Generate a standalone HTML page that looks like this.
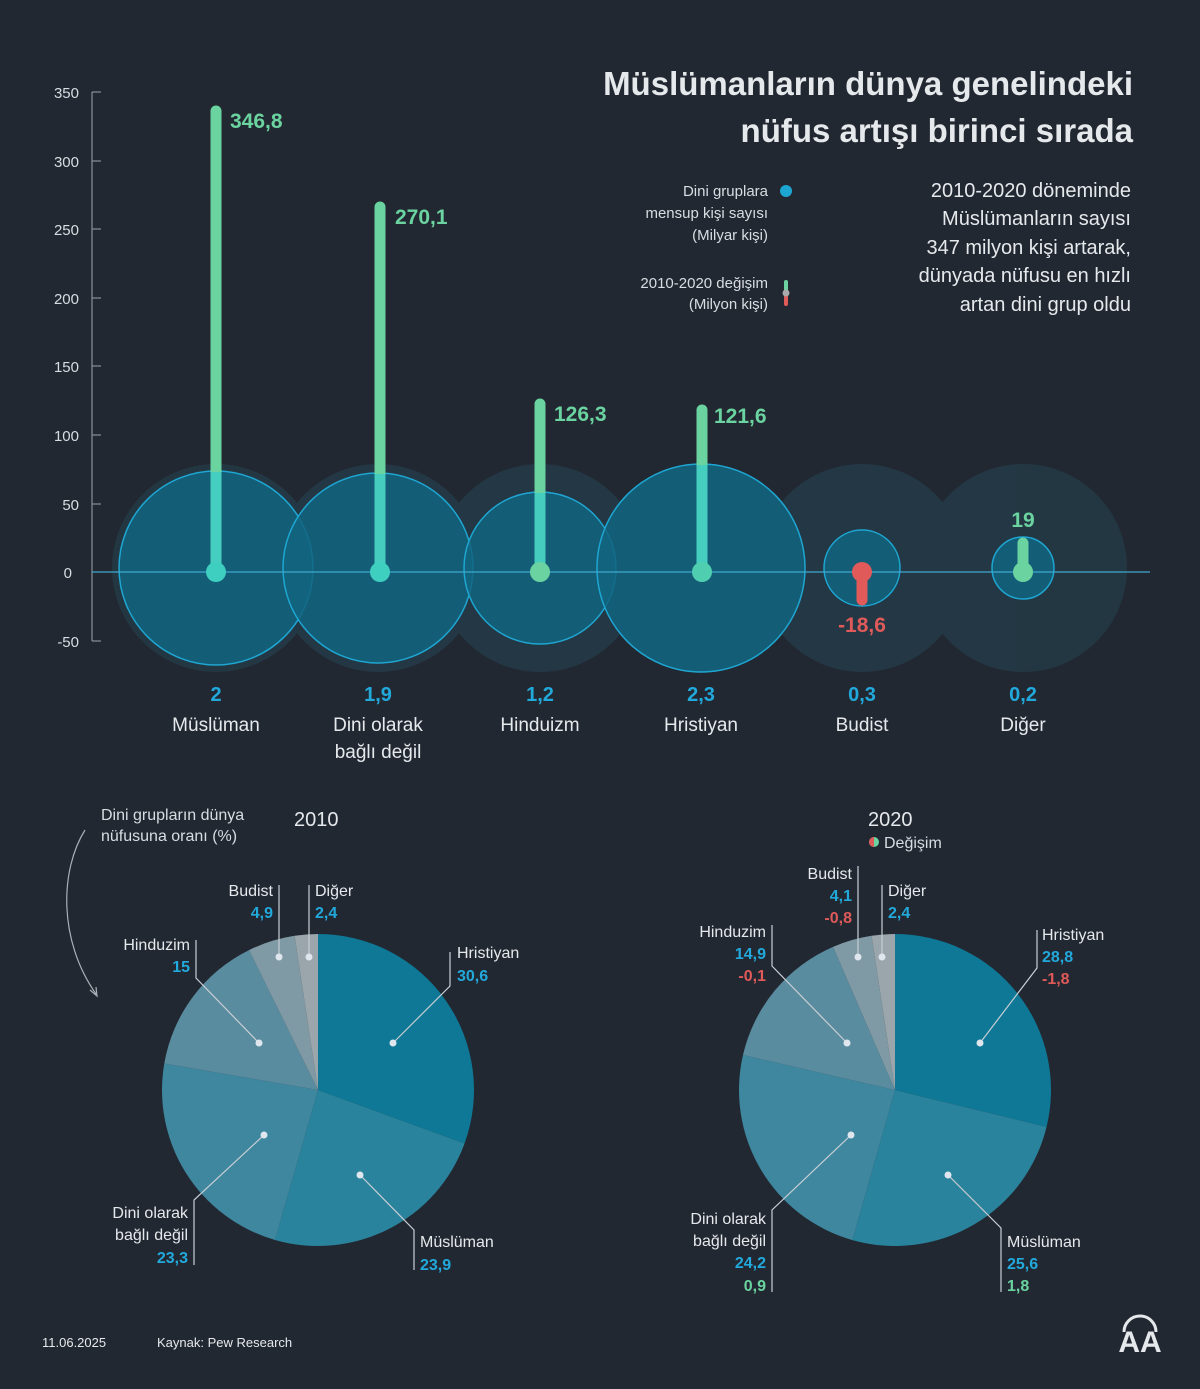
<!DOCTYPE html>
<html><head><meta charset="utf-8"><style>
html,body{margin:0;padding:0;background:#222832;}
svg{display:block;font-family:"Liberation Sans",sans-serif;}
</style></head><body>
<svg id="s" width="1200" height="1389" viewBox="0 0 1200 1389" xmlns="http://www.w3.org/2000/svg">
<rect width="1200" height="1389" fill="#222832"/>
<g fill="#243845" opacity="0.95">
<circle cx="216" cy="568" r="104"/><circle cx="378" cy="568" r="104"/><circle cx="540" cy="568" r="104"/>
<circle cx="701" cy="568" r="104"/><circle cx="862" cy="568" r="104"/><circle cx="1023" cy="568" r="104"/>
</g>
<g fill="#12647f" fill-opacity="0.85" stroke="#1ea6d2" stroke-width="1.5">
<circle cx="216" cy="568" r="97"/><circle cx="378" cy="568" r="95"/><circle cx="540" cy="568" r="76"/>
<circle cx="701" cy="568" r="104"/><circle cx="862" cy="568" r="38"/><circle cx="1023" cy="568" r="31"/>
</g>
<g stroke="#8a9098" stroke-width="1.2" fill="none">
<line x1="92" y1="92" x2="92" y2="641"/>
<line x1="92" y1="92" x2="101" y2="92"/><line x1="92" y1="161" x2="101" y2="161"/>
<line x1="92" y1="229" x2="101" y2="229"/><line x1="92" y1="298" x2="101" y2="298"/>
<line x1="92" y1="366" x2="101" y2="366"/><line x1="92" y1="435" x2="101" y2="435"/>
<line x1="92" y1="504" x2="101" y2="504"/><line x1="92" y1="641" x2="101" y2="641"/>
</g>
<line x1="92" y1="572" x2="1150" y2="572" stroke="#3fa9cf" stroke-width="1.3"/>
<g fill="#d8dde2" font-size="15" text-anchor="end">
<text x="79" y="98">350</text><text x="79" y="167">300</text><text x="79" y="235">250</text>
<text x="79" y="304">200</text><text x="79" y="372">150</text><text x="79" y="441">100</text>
<text x="79" y="510">50</text><text x="72" y="578">0</text><text x="79" y="647">-50</text>
</g>
<g stroke-linecap="round" stroke-width="11">
<line x1="216" y1="572" x2="216" y2="111" stroke="#6ad3a0"/>
<line x1="380" y1="572" x2="380" y2="207" stroke="#6ad3a0"/>
<line x1="540" y1="572" x2="540" y2="404" stroke="#6ad3a0"/>
<line x1="702" y1="572" x2="702" y2="410" stroke="#6ad3a0"/>
<line x1="862" y1="572" x2="862" y2="600" stroke="#e05a5a"/>
<line x1="1023" y1="572" x2="1023" y2="543" stroke="#6ad3a0"/>
</g>
<g stroke-width="11" stroke="#45cdbf">
<line x1="216" y1="572" x2="216" y2="472"/><line x1="380" y1="572" x2="380" y2="474"/>
<line x1="540" y1="572" x2="540" y2="493"/><line x1="702" y1="572" x2="702" y2="465"/>
</g>
<g fill="#3fcfc0">
<circle cx="216" cy="572" r="10"/><circle cx="380" cy="572" r="10"/>
</g>
<circle cx="540" cy="572" r="10" fill="#6ad3a0"/><circle cx="702" cy="572" r="10" fill="#4fcfb0"/>
<circle cx="862" cy="572" r="10" fill="#e05a5a"/><circle cx="1023" cy="572" r="10" fill="#6ad3a0"/>
<g fill="#6ad3a0" font-size="21" font-weight="bold">
<text x="230" y="128">346,8</text><text x="395" y="224">270,1</text>
<text x="554" y="421">126,3</text><text x="714" y="423">121,6</text>
<text x="1023" y="527" text-anchor="middle">19</text>
</g>
<text x="862" y="632" fill="#e05a5a" font-size="21" font-weight="bold" text-anchor="middle">-18,6</text>
<g font-size="20" font-weight="bold" fill="#22a9dc" text-anchor="middle">
<text x="216" y="701">2</text><text x="378" y="701">1,9</text><text x="540" y="701">1,2</text>
<text x="701" y="701">2,3</text><text x="862" y="701">0,3</text><text x="1023" y="701">0,2</text>
</g>
<g font-size="19" fill="#e6e9ec" text-anchor="middle">
<text x="216" y="731">Müslüman</text><text x="378" y="731">Dini olarak</text><text x="378" y="758">bağlı değil</text>
<text x="540" y="731">Hinduizm</text><text x="701" y="731">Hristiyan</text><text x="862" y="731">Budist</text><text x="1023" y="731">Diğer</text>
</g>
<g fill="#e6e9ec" font-size="33" font-weight="bold" text-anchor="end">
<text x="1133" y="95">Müslümanların dünya genelindeki</text>
<text x="1133" y="142">nüfus artışı birinci sırada</text>
</g>
<g fill="#e6e9ec" font-size="20" text-anchor="end">
<text x="1131" y="197">2010-2020 döneminde</text><text x="1131" y="225">Müslümanların sayısı</text>
<text x="1131" y="254">347 milyon kişi artarak,</text><text x="1131" y="282">dünyada nüfusu en hızlı</text>
<text x="1131" y="311">artan dini grup oldu</text>
</g>
<g fill="#d8dde2" font-size="15" text-anchor="end">
<text x="768" y="196">Dini gruplara</text><text x="768" y="218">mensup kişi sayısı</text><text x="768" y="240">(Milyar kişi)</text>
<text x="768" y="288">2010-2020 değişim</text><text x="768" y="309">(Milyon kişi)</text>
</g>
<circle cx="786" cy="191" r="6" fill="#1ea6d2"/>
<line x1="786" y1="282" x2="786" y2="290" stroke="#6ad3a0" stroke-width="4" stroke-linecap="round"/>
<line x1="786" y1="295" x2="786" y2="304" stroke="#e05a5a" stroke-width="4" stroke-linecap="round"/>
<circle cx="786" cy="293" r="3.5" fill="#aaa"/>
<g id="p1"></g><g id="p2"></g>
<g fill="#d8dde2" font-size="16">
<text x="101" y="820">Dini grupların dünya</text><text x="101" y="841">nüfusuna oranı (%)</text>
</g>
<path d="M85,830 C60,870 58,940 96,994" stroke="#aab0b6" stroke-width="1.2" fill="none"/>
<path d="M90,990 L97,996 L96,987" stroke="#aab0b6" stroke-width="1.2" fill="none"/>
<text x="294" y="826" fill="#e6e9ec" font-size="20">2010</text>
<text x="868" y="826" fill="#e6e9ec" font-size="20">2020</text>
<circle cx="874" cy="842" r="5" fill="#6ad3a0"/><path d="M874,837 A5,5 0 0 0 874,847 Z" fill="#e05a5a"/>
<text x="884" y="848" fill="#d8dde2" font-size="16">Değişim</text>
<g id="lab" stroke="#c8ced4" stroke-width="1.2" fill="none"></g>
<g font-size="16" fill="#e6e9ec">
<text x="273" y="896" text-anchor="end">Budist</text><text x="315" y="896">Diğer</text>
<text x="190" y="950" text-anchor="end">Hinduzim</text><text x="457" y="958">Hristiyan</text>
<text x="188" y="1218" text-anchor="end">Dini olarak</text><text x="188" y="1240" text-anchor="end">bağlı değil</text>
<text x="420" y="1247">Müslüman</text>
<text x="852" y="879" text-anchor="end">Budist</text><text x="888" y="896">Diğer</text>
<text x="766" y="937" text-anchor="end">Hinduzim</text><text x="1042" y="940">Hristiyan</text>
<text x="766" y="1224" text-anchor="end">Dini olarak</text><text x="766" y="1246" text-anchor="end">bağlı değil</text>
<text x="1007" y="1247">Müslüman</text>
</g>
<g font-size="16" font-weight="bold" fill="#22a9dc">
<text x="273" y="918" text-anchor="end">4,9</text><text x="315" y="918">2,4</text>
<text x="190" y="972" text-anchor="end">15</text><text x="457" y="981">30,6</text>
<text x="188" y="1263" text-anchor="end">23,3</text><text x="420" y="1270">23,9</text>
<text x="852" y="901" text-anchor="end">4,1</text><text x="888" y="918">2,4</text>
<text x="766" y="959" text-anchor="end">14,9</text><text x="1042" y="962">28,8</text>
<text x="766" y="1268" text-anchor="end">24,2</text><text x="1007" y="1269">25,6</text>
</g>
<g font-size="16" font-weight="bold" fill="#e05a5a">
<text x="852" y="923" text-anchor="end">-0,8</text><text x="766" y="981" text-anchor="end">-0,1</text><text x="1042" y="984">-1,8</text>
</g>
<g font-size="16" font-weight="bold" fill="#6ad3a0">
<text x="766" y="1291" text-anchor="end">0,9</text><text x="1007" y="1291">1,8</text>
</g>
<g font-size="13" fill="#e6e9ec">
<text x="42" y="1347">11.06.2025</text><text x="157" y="1347">Kaynak: Pew Research</text>
</g>
<text x="1140" y="1352" fill="#e6e9ec" font-size="30" font-weight="bold" text-anchor="middle">AA</text>
<path d="M1124,1332 A16,16 0 0 1 1156,1332" stroke="#e6e9ec" stroke-width="3" fill="none"/>
</svg>
<script>
function pie(id,cx,cy,r,vals,cols){
 var g=document.getElementById(id),a=0,tot=vals.reduce((x,y)=>x+y,0),h='';
 vals.forEach(function(v,i){
  var a2=a+v/tot*2*Math.PI;
  var x1=cx+r*Math.sin(a),y1=cy-r*Math.cos(a),x2=cx+r*Math.sin(a2),y2=cy-r*Math.cos(a2);
  h+='<path d="M'+cx+','+cy+' L'+x1+','+y1+' A'+r+','+r+' 0 '+((a2-a)>Math.PI?1:0)+' 1 '+x2+','+y2+' Z" fill="'+cols[i]+'"/>';
  a=a2;});
 g.innerHTML=h;
}
var cols=['#0e7896','#2a839c','#3e879f','#5a8c9f','#7f9aa5','#9aa6ab'];
pie('p1',318,1090,156,[30.6,23.9,23.3,15,4.9,2.4],cols);
pie('p2',895,1090,156,[28.8,25.6,24.2,14.9,4.1,2.4],cols);
var L=[
 [[279,885],[279,957]],[[309,885],[309,957]],[[196,940],[196,978],[259,1043]],
 [[450,952],[450,986],[393,1043]],[[194,1265],[194,1200],[264,1135]],[[414,1270],[414,1230],[360,1175]],
 [[858,866],[858,957]],[[882,885],[882,957]],[[772,925],[772,966],[847,1043]],
 [[1037,930],[1037,968],[980,1043]],[[772,1292],[772,1210],[851,1135]],[[1001,1292],[1001,1228],[948,1175]]
];
var s='',d='';
L.forEach(function(p){s+='<polyline points="'+p.map(q=>q.join(',')).join(' ')+'"/>';var e=p[p.length-1];d+='<circle cx="'+e[0]+'" cy="'+e[1]+'" r="3.5" fill="#dfe6ee" stroke="none"/>';});
document.getElementById('lab').innerHTML=s+d;
</script>
</body></html>
